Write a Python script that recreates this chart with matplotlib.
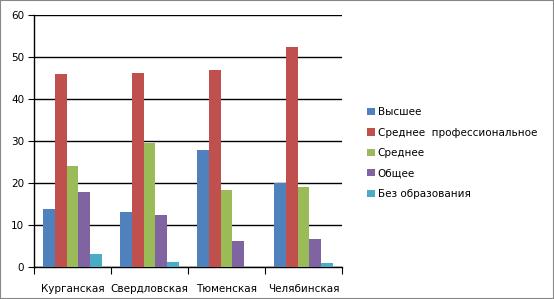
import numpy as np
import matplotlib
matplotlib.use("Agg")
import matplotlib.pyplot as plt
from matplotlib.patches import Rectangle

regions = ["Курганская", "Свердловская", "Тюменская", "Челябинская"]
series = ["Высшее", "Среднее  профессиональное", "Среднее", "Общее", "Без образования"]
colors = ["#4f81bd", "#c0504d", "#9bbb59", "#8064a2", "#4bacc6"]

vysshee = [13.8, 13.1, 27.9, 19.9]
sred_prof = [46.0, 46.2, 46.9, 52.4]
srednee = [24.0, 29.5, 18.3, 19.0]
obshee = [17.9, 12.4, 6.2, 6.7]
bez = [3.1, 1.2, 0.0, 0.95]
values = [vysshee, sred_prof, srednee, obshee, bez]

fig = plt.figure(figsize=(5.54, 2.99), dpi=100)
ax = fig.add_axes([34 / 554, 1 - 267 / 299, 308 / 554, 252 / 299])

w = 0.153
x = np.arange(len(regions))
for i, (name, vals, c) in enumerate(zip(series, values, colors)):
    ax.bar(x + (i - 2) * w, vals, width=w, color=c, label=name, zorder=3)

ax.set_xlim(-0.5, 3.5)
ax.set_ylim(0, 60)
ax.set_yticks(range(0, 61, 10))
ax.yaxis.grid(True, color="black", linewidth=1, zorder=0)
for s in ["top", "right"]:
    ax.spines[s].set_visible(False)
ax.spines["left"].set_linewidth(1)
ax.spines["bottom"].set_linewidth(1)

ax.set_xticks(np.arange(-0.5, 4, 1))
ax.set_xticklabels([])
ax.set_xticks(x, minor=True)
ax.set_xticklabels(regions, minor=True)
ax.tick_params(axis="x", which="major", length=5, direction="out")
ax.tick_params(axis="x", which="minor", length=0, pad=12, labelsize=7.5)
ax.tick_params(axis="y", length=4, direction="out", labelsize=7.5, pad=3)

ax.legend(loc="center left", bbox_to_anchor=(358 / 554, 1 - 153 / 299), bbox_transform=fig.transFigure,
          frameon=False, fontsize=7.5, handlelength=0.7, handleheight=0.7,
          handletextpad=0.3, labelspacing=1.0)

fig.patches.append(Rectangle((0, 0), 1, 1, transform=fig.transFigure, fill=False,
                             edgecolor="#888888", linewidth=1.5))

fig.savefig("out.png", dpi=100)
